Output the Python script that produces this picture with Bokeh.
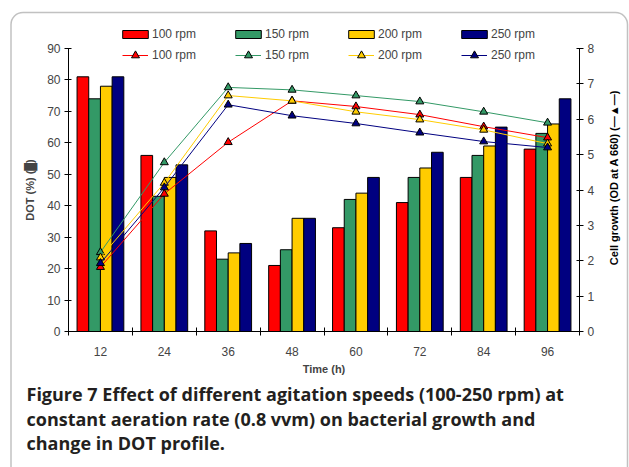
import math
import numpy as np
from bokeh.plotting import figure
from bokeh.models import (Range1d, LinearAxis, FixedTicker, Legend, LegendItem,
                          Label, BoxAnnotation)
from bokeh.embed import file_html
from bokeh.resources import INLINE

# ---------------- data ----------------
times = ["12", "24", "36", "48", "60", "72", "84", "96"]
speeds = ["100 rpm", "150 rpm", "200 rpm", "250 rpm"]
colors = ["#FF0000", "#339966", "#FFCC00", "#000080"]

dot_100 = [81, 56, 32, 21, 33, 41, 49, 58]
dot_150 = [74, 43, 23, 26, 42, 49, 56, 63]
dot_200 = [78, 49, 25, 36, 44, 52, 59, 66]
dot_250 = [81, 53, 28, 36, 49, 57, 65, 74]

od_100 = [1.82, 3.89, 5.35, 6.52, 6.36, 6.13, 5.79, 5.48]
od_150 = [2.24, 4.78, 6.90, 6.83, 6.67, 6.50, 6.21, 5.90]
od_200 = [2.09, 4.20, 6.67, 6.52, 6.21, 5.99, 5.70, 5.31]
od_250 = [1.93, 4.07, 6.41, 6.10, 5.88, 5.62, 5.37, 5.20]

dot_max = 90
od_max = 8
dot_left_ticks = list(range(0, dot_max + 1, 10))
od_right_ticks = list(range(0, od_max + 1))

caption_lines = [
    "Figure 7 Effect of different agitation speeds (100-250 rpm) at",
    "constant aeration rate (0.8 vvm) on bacterial growth and",
    "change in DOT profile.",
]

dot_series = [dot_100, dot_150, dot_200, dot_250]
od_series = [od_100, od_150, od_200, od_250]

FONT = "Liberation Sans"

# ---------------- layout (pixels) ----------------
W, H = 629, 467
PL, PR, PT, PB = 68, 579, 48, 331          # plot-area edges in canvas pixels
ncat = len(times)
xpx = (PR - PL) / ncat
ypx_dot = (PB - PT) / dot_max
ypx_od = (PB - PT) / od_max

# the frame covers the whole canvas; axes are pinned with fixed_location
p = figure(width=W, height=H, output_backend="svg", toolbar_location=None,
           x_range=Range1d(-PL / xpx, (W - PL) / xpx),
           y_range=Range1d(-(H - PB) / ypx_dot, PB / ypx_dot),
           min_border=0, min_border_left=0, min_border_right=0,
           min_border_top=0, min_border_bottom=0)
p.outline_line_color = None
p.xgrid.visible = False
p.ygrid.visible = False
p.extra_y_ranges = {"od": Range1d(-(H - PB) / ypx_od, PB / ypx_od)}

centers = np.arange(ncat) + 0.5
bar_w = 0.183
offsets = [-0.2745, -0.0915, 0.0915, 0.2745]

bar_renderers = []
for vals, col, off in zip(dot_series, colors, offsets):
    r = p.vbar(x=centers + off, top=vals, width=bar_w, bottom=0,
               fill_color=col, line_color="black", line_width=1)
    bar_renderers.append(r)

line_items = []
for vals, col, name in zip(od_series, colors, speeds):
    l = p.line(x=centers, y=vals, line_color=col, line_width=1, y_range_name="od")
    s = p.scatter(x=centers, y=vals, marker="triangle", size=8, fill_color=col,
                  line_color="black", line_width=1, y_range_name="od")
    line_items.append(LegendItem(label=name, renderers=[l, s]))

# ---------------- axes ----------------
xa = p.xaxis[0]
xa.fixed_location = 0
xa.bounds = (0, ncat)
xa.ticker = FixedTicker(ticks=list(centers), minor_ticks=list(range(ncat + 1)))
xa.major_label_overrides = {float(c): t for c, t in zip(centers, times)}
xa.major_tick_line_color = None
xa.minor_tick_line_color = "black"
xa.minor_tick_in = 4
xa.minor_tick_out = 4
xa.axis_line_color = "black"
xa.axis_label = "Time (h)"
xa.axis_label_text_font = FONT
xa.axis_label_text_font_style = "bold"
xa.axis_label_text_font_size = "11px"
xa.major_label_text_font = FONT
xa.major_label_text_font_size = "12px"
xa.major_label_standoff = 9
xa.axis_label_standoff = 4

ya = p.yaxis[0]
ya.fixed_location = 0
ya.bounds = (0, dot_max)
ya.ticker = FixedTicker(ticks=dot_left_ticks)
ya.major_tick_in = 3
ya.major_tick_out = 4
ya.minor_tick_line_color = None
ya.axis_label = "DOT (%) (\u2588)"
ya.axis_label_text_font = FONT
ya.axis_label_text_font_style = "bold"
ya.axis_label_text_font_size = "11px"
ya.major_label_text_font = FONT
ya.major_label_text_font_size = "12px"
ya.major_label_standoff = 4
ya.axis_label_standoff = 8

ra = LinearAxis(y_range_name="od", ticker=FixedTicker(ticks=od_right_ticks))
ra.fixed_location = ncat
ra.bounds = (0, od_max)
ra.major_tick_in = 3
ra.major_tick_out = 4
ra.minor_tick_line_color = None
ra.major_label_text_font = FONT
ra.major_label_text_font_size = "12px"
ra.major_label_standoff = 4
p.add_layout(ra, "right")

# right axis title, reading bottom-to-top as in the original
p.add_layout(Label(x=613, y=H - 177, x_units="screen", y_units="screen",
                   text="Cell growth (OD at A 660) (\u2014\u25B2\u2014)",
                   angle=math.pi / 2, text_align="center", text_baseline="middle",
                   text_font=FONT, text_font_size="11px", text_font_style="bold",
                   text_color="black"))

# ---------------- legends ----------------
leg1 = Legend(items=[LegendItem(label=n, renderers=[r]) for n, r in zip(speeds, bar_renderers)],
              orientation="horizontal", location=(119, H - 41),
              glyph_width=32, glyph_height=10, label_height=14, label_width=80,
              label_standoff=1, spacing=0, padding=0, margin=0,
              label_text_font=FONT, label_text_font_size="12px",
              background_fill_alpha=0, border_line_color=None)
leg2 = Legend(items=line_items, orientation="horizontal", location=(122, H - 65),
              glyph_width=26, glyph_height=20, label_height=20, label_width=83,
              label_standoff=4, spacing=0, padding=0, margin=0,
              label_text_font=FONT, label_text_font_size="12px",
              background_fill_alpha=0, border_line_color=None)
p.add_layout(leg1)
p.add_layout(leg2)

# ---------------- outer rounded frame ----------------
p.add_layout(BoxAnnotation(left=10.5, right=627, top=H - 12, bottom=-20,
                           left_units="screen", right_units="screen",
                           top_units="screen", bottom_units="screen",
                           fill_color=None, fill_alpha=0, line_color="#333333",
                           line_width=1.5, border_radius=12))

# ---------------- caption ----------------
CAP = dict(x_units="screen", y_units="screen", text_font="Open Sans",
           text_font_size="18px", text_color="#231f20", text_font_style="bold",
           text_baseline="middle", text_align="left")
for text, y in zip(caption_lines, [393, 418, 442]):
    p.add_layout(Label(x=26, y=H - y, text=text, **CAP))

open("out.html", "w").write(file_html(p, INLINE))
